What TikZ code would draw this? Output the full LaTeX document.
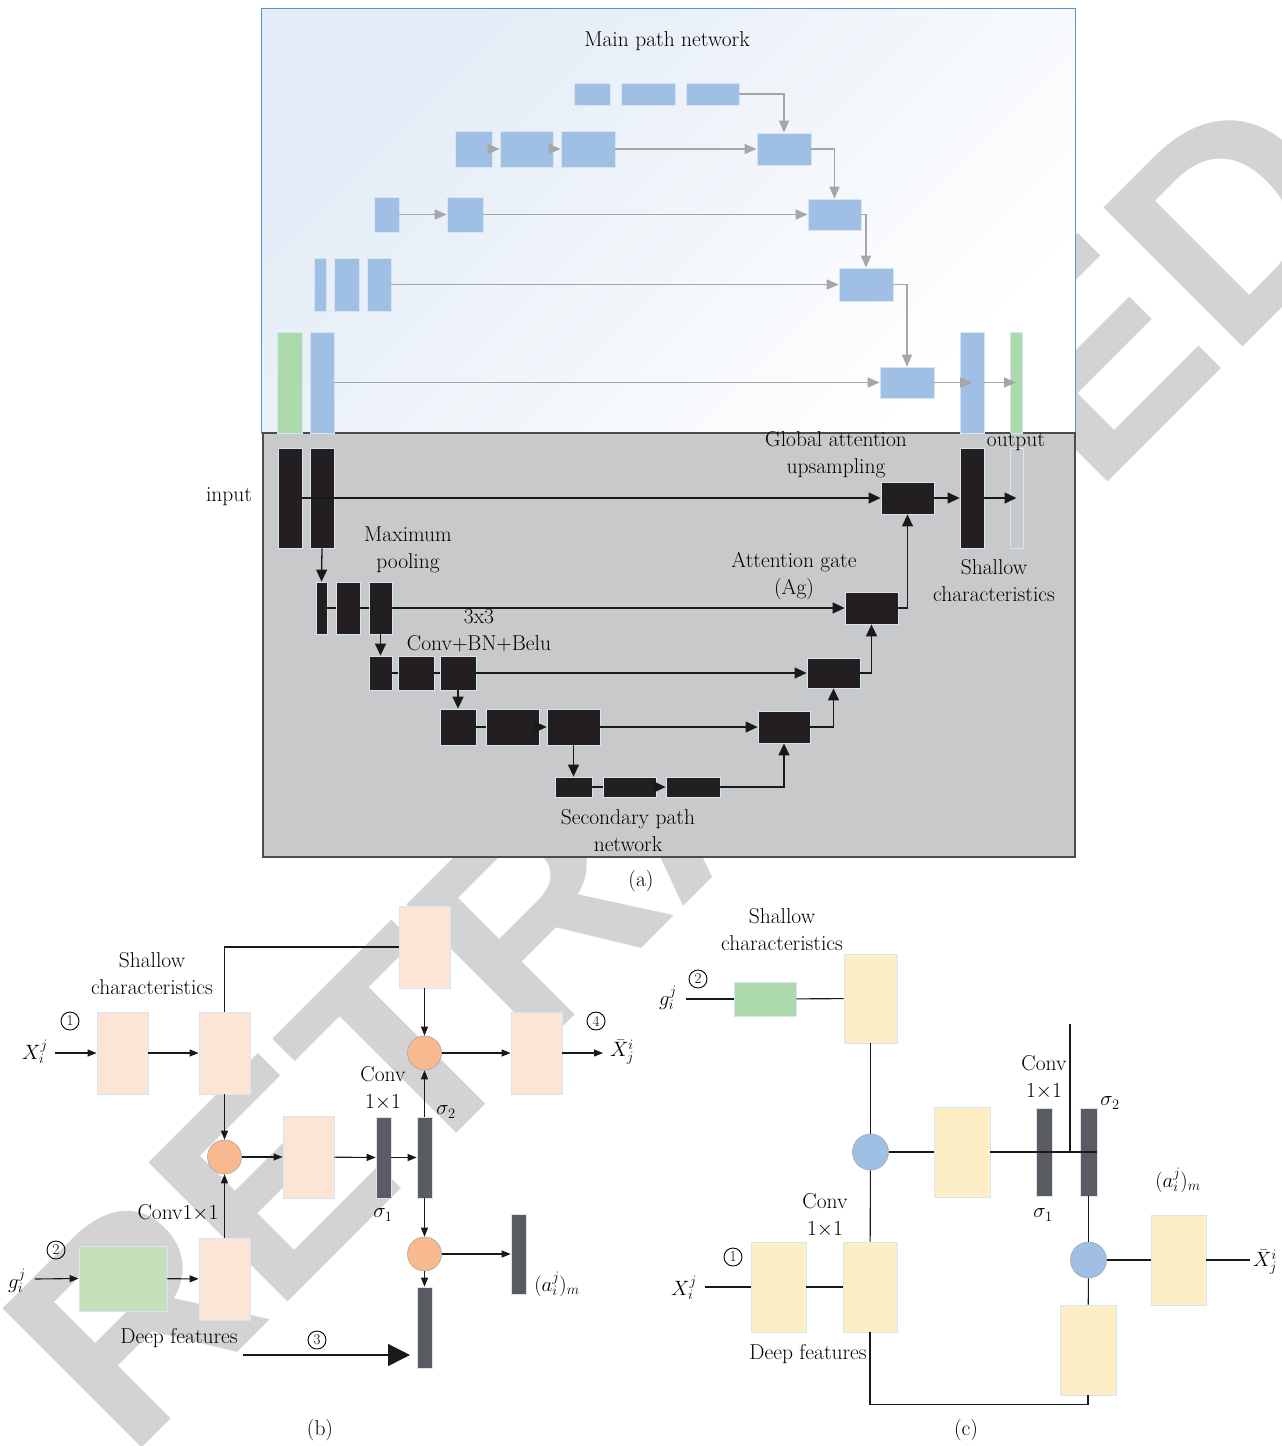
\documentclass[tikz,border=0pt]{standalone}
\usepackage{fontspec}
\newfontfamily\wmfont{Liberation Sans}
\usetikzlibrary{arrows.meta,fit,calc}
\definecolor{cblue}{RGB}{160,191,228}
\definecolor{cblueb}{RGB}{214,228,244}
\definecolor{cgreen}{RGB}{172,218,173}
\definecolor{cblack}{RGB}{35,31,32}
\definecolor{cgraybg}{RGB}{200,201,203}
\definecolor{cpink}{RGB}{253,229,214}
\definecolor{corange}{RGB}{249,185,142}
\definecolor{cbar}{RGB}{91,92,97}
\definecolor{cgreenb}{RGB}{198,224,187}
\definecolor{cyellow}{RGB}{253,238,198}
\definecolor{carrgray}{RGB}{166,166,166}
\definecolor{ctopbg}{RGB}{226,235,246}
\definecolor{ctopline}{RGB}{90,150,196}
\definecolor{cwm}{RGB}{211,211,211}
\begin{document}
\begin{tikzpicture}[x=1pt,y=-1pt,
  lbl/.style={font=\fontsize{21.5}{27}\selectfont, align=center, inner sep=0pt, text=black},
  wm/.style={font=\wmfont\bfseries\fontsize{286}{286}\selectfont, text=cwm, inner sep=0pt},
  bluebox/.style={fill=cblue, draw=cblueb, line width=0.8pt, inner sep=0pt},
  greenbox/.style={fill=cgreen, draw=cblueb, line width=0.8pt, inner sep=0pt},
  blackbox/.style={fill=cblack, draw=cblueb, line width=0.8pt, inner sep=0pt},
  pinkbox/.style={fill=cpink, draw=cblueb, line width=0.8pt, inner sep=0pt},
  yelbox/.style={fill=cyellow, draw=cblueb, line width=0.8pt, inner sep=0pt},
  barbox/.style={fill=cbar, draw=cblueb, line width=0.6pt, inner sep=0pt},
  orc/.style={circle, fill=corange, draw=black!35, line width=0.6pt, minimum size=34pt, inner sep=0pt},
  blc/.style={circle, fill=cblue, draw=black!35, line width=0.6pt, minimum size=36pt, inner sep=0pt},
  cnum/.style={circle, draw=black, line width=0.9pt, minimum size=18pt, inner sep=0pt, font=\fontsize{15}{15}\selectfont},
  garr/.style={draw=carrgray, line width=1.5pt, -{Triangle[length=12pt,width=10pt]}},
  karr/.style={draw=black!90, line width=1.3pt, -{Triangle[length=12pt,width=11pt]}},
  kline/.style={draw=black!90, line width=1.3pt},
  barr/.style={draw=black!90, line width=1.1pt, -{Triangle[length=9pt,width=7pt]}},
  cline/.style={draw=black!90, line width=1.1pt},
  bigarr/.style={draw=black!90, line width=1.3pt, -{Triangle[length=22pt,width=22pt]}}
]
\useasboundingbox (0,0) rectangle (1282,1446);
\fill[white] (0,0) rectangle (1282,1446);
% watermark
\node[wm, anchor=base west, rotate=45] (wmk) at (128,1462) {RETRACTED};

% ---------------- panel (a) ----------------
\shadedraw[top color=ctopbg, bottom color=white, shading angle=45, draw=ctopline, line width=0.9pt] (261,8) rectangle (1075,433);
\draw[fill=cgraybg, draw=black!70, line width=1.5pt] (263,433) rectangle (1075,857);

\node[lbl] (tmain) at (667,41) {Main path network};

% top (main path) boxes
\node[bluebox, fit={(574,83)(610,105)}] (t1a) {};
\node[bluebox, fit={(621,83)(675,105)}] (t1b) {};
\node[bluebox, fit={(686,83)(739,105)}] (t1c) {};
\node[bluebox, fit={(757,133)(811,165)}] (u1) {};
\node[bluebox, fit={(455,131)(492,167)}] (b2a) {};
\node[bluebox, fit={(500,131)(553,167)}] (b2b) {};
\node[bluebox, fit={(561,131)(615,167)}] (b2c) {};
\node[bluebox, fit={(808,199)(861,230)}] (u2) {};
\node[bluebox, fit={(374,197)(399,232)}] (b3a) {};
\node[bluebox, fit={(447,197)(483,232)}] (b3b) {};
\node[bluebox, fit={(839,268)(893,301)}] (u3) {};
\node[bluebox, fit={(314,258)(326,311)}] (b4a) {};
\node[bluebox, fit={(334,258)(359,311)}] (b4b) {};
\node[bluebox, fit={(367,258)(391,311)}] (b4c) {};
\node[bluebox, fit={(880,367)(934,398)}] (u4) {};
\node[greenbox, fit={(277,332)(302,433)}] (g5) {};
\node[bluebox, fit={(310,332)(334,433)}] (b5) {};
\node[bluebox, fit={(960,332)(984,433)}] (b5o) {};
\node[greenbox, fit={(1010,332)(1022,433)}] (g5o) {};

\draw[garr] (t1c.east) -| (u1.north);
\draw[garr] (b2a) -- (b2b);
\draw[garr] (b2b) -- (b2c);
\draw[garr] (b2c) -- (u1);
\draw[garr] (u1.east) -| (u2.north);
\draw[garr] (b3a) -- (b3b);
\draw[garr] (b3b) -- (u2);
\draw[garr] (u2.east) -| (u3.north);
\draw[garr] (b4c) -- (u3);
\draw[garr] (u3.east) -| (u4.north);
\draw[garr] (b5) -- (u4);
\draw[garr] (u4.east) -- (b5o.center);
\draw[garr] (b5o.east) -- (g5o.center);

% bottom (secondary path) boxes
\node[blackbox, fit={(278,448)(302,548)}] (i1) {};
\node[blackbox, fit={(310,448)(334,548)}] (i2) {};
\node[blackbox, fit={(881,482)(934,514)}] (ga) {};
\node[blackbox, fit={(960,448)(984,548)}] (s) {};
\node[draw=cblueb, line width=1pt, inner sep=0pt, fit={(1010,448)(1023,548)}] (o) {};
\node[blackbox, fit={(316,582)(327,634)}] (r2a) {};
\node[blackbox, fit={(336,582)(360,634)}] (r2b) {};
\node[blackbox, fit={(369,582)(392,634)}] (r2c) {};
\node[blackbox, fit={(845,592)(898,624)}] (ag) {};
\node[blackbox, fit={(369,656)(392,690)}] (r3a) {};
\node[blackbox, fit={(398,656)(434,690)}] (r3b) {};
\node[blackbox, fit={(440,656)(476,690)}] (r3c) {};
\node[blackbox, fit={(807,658)(860,688)}] (ag3) {};
\node[blackbox, fit={(440,709)(476,745)}] (r4a) {};
\node[blackbox, fit={(486,709)(539,745)}] (r4b) {};
\node[blackbox, fit={(547,709)(600,745)}] (r4c) {};
\node[blackbox, fit={(758,711)(810,743)}] (ag4) {};
\node[blackbox, fit={(555,777)(592,797)}] (r5a) {};
\node[blackbox, fit={(603,777)(656,797)}] (r5b) {};
\node[blackbox, fit={(666,777)(720,797)}] (r5c) {};

\draw[karr] (i1) -- (ga);
\draw[karr] (ga) -- (s);
\draw[karr] (s.east) -- (o.center);
\draw[karr] (i2.south) -- (r2a.north);
\draw[kline] (r2a) -- (r2b);
\draw[kline] (r2b) -- (r2c);
\draw[karr] (r2c) -- (ag);
\draw[karr] (ag.east) -| (ga.south);
\draw[karr] (r2c.south) -- (r3a.north);
\draw[kline] (r3a) -- (r3b);
\draw[kline] (r3b) -- (r3c);
\draw[karr] (r3c) -- (ag3);
\draw[karr] (ag3.east) -| (ag.south);
\draw[karr] (r3c.south) -- (r4a.north);
\draw[kline] (r4a) -- (r4b);
\draw[karr] (r4b) -- (r4c);
\draw[karr] (r4c) -- (ag4);
\draw[karr] (ag4.east) -| (ag3.south);
\draw[karr] (r4c.south) -- (r5a.north);
\draw[kline] (r5a) -- (r5b);
\draw[karr] (r5b) -- (r5c);
\draw[karr] (r5c.east) -| (ag4.south);

\node[lbl] (tga) at (836,455) {Global attention\\upsampling};
\node[lbl] (tout) at (1016,442) {output};
\node[lbl] (tin) at (229,497) {input};
\node[lbl] (tmax) at (408,550) {Maximum\\pooling};
\node[lbl] (tagt) at (794,576) {Attention gate\\(Ag)};
\node[lbl] (tsh) at (994,581) {Shallow\\characteristics};
\node[lbl] (tconv) at (479,631) {3x3\\Conv+BN+Belu};
\node[lbl] (tsec) at (628,831) {Secondary path\\network};
\node[lbl] (ta) at (641,881) {(a)};

% ---------------- panel (b) ----------------
\node[pinkbox, fit={(399,906)(450,988)}] (pt) {};
\node[pinkbox, fit={(97,1012)(148,1094)}] (p1) {};
\node[pinkbox, fit={(199,1012)(250,1094)}] (p2) {};
\node[pinkbox, fit={(283,1116)(334,1198)}] (p3) {};
\node[pinkbox, fit={(511,1012)(562,1094)}] (p4) {};
\node[pinkbox, fit={(199,1238)(250,1320)}] (p5) {};
\node[fill=cgreenb, draw=cblueb, line width=0.8pt, inner sep=0pt, fit={(79,1246)(167,1311)}] (gb) {};
\node[barbox, fit={(376,1117)(391,1198)}] (bar1) {};
\node[barbox, fit={(417,1117)(432,1198)}] (bar2) {};
\node[barbox, fit={(511,1214)(526,1294)}] (bar3) {};
\node[barbox, fit={(417,1287)(432,1368)}] (bar4) {};
\node[orc] (c1) at (224.5,1157) {};
\node[orc] (c2) at (424.5,1053) {};
\node[orc] (c3) at (424.5,1254) {};

\coordinate (xsb) at (55,1053);
\coordinate (xeb) at (603,1053);
\coordinate (gsb) at (35,1279);
\coordinate (dsb) at (243,1355);
\coordinate (deb) at (410,1355);

\draw[barr] (xsb) -- (p1.west);
\draw[barr] (p1) -- (p2);
\draw[cline] (pt.west) -| (p2.north);
\draw[barr] (p2) -- (c1);
\draw[barr] (p5) -- (c1);
\draw[barr] (c1) -- (p3);
\draw[barr] (p3) -- (bar1);
\draw[barr] (bar1) -- (bar2);
\draw[barr] (bar2) -- (c2);
\draw[barr] (pt) -- (c2);
\draw[barr] (c2) -- (p4);
\draw[barr] (p4.east) -- (xeb);
\draw[barr] (bar2) -- (c3);
\draw[barr] (c3) -- (bar3);
\draw[barr] (c3) -- (bar4);
\draw[barr] (gsb) -- (gb.west);
\draw[barr] (gb) -- (p5);
\draw[bigarr] (dsb) -- (deb);

\node[lbl] (bsh) at (152,974) {Shallow\\characteristics};
\node[lbl] (bxl) at (35,1052) {$X_i^j$};
\node[lbl] (bxr) at (622,1052) {$\bar{X}_j^i$};
\node[lbl] (bgl) at (17,1281) {$g_i^j$};
\node[cnum] (bn1) at (70,1021) {1};
\node[cnum] (bn2) at (56,1250) {2};
\node[cnum] (bn3) at (317,1340) {3};
\node[cnum] (bn4) at (596,1021) {4};
\node[lbl] (bconv) at (383,1088) {Conv\\1$\times$1};
\node[lbl] (bs2) at (446,1112) {$\sigma_2$};
\node[lbl] (bs1) at (383,1215) {$\sigma_1$};
\node[lbl] (bconv2) at (178,1213) {Conv1$\times$1};
\node[lbl] (bdeep) at (179,1338) {Deep features};
\node[lbl] (bam) at (557,1284) {$(a_i^j)_m$};
\node[lbl] (tb) at (320,1430) {(b)};

% ---------------- panel (c) ----------------
\node[fill=cgreen, draw=cblueb, line width=0.8pt, inner sep=0pt, fit={(734,982)(796,1016)}] (gc) {};
\node[yelbox, fit={(844,954)(897,1043)}] (y1) {};
\node[yelbox, fit={(934,1107)(990,1197)}] (y2) {};
\node[yelbox, fit={(1151,1215)(1206,1305)}] (y3) {};
\node[yelbox, fit={(1060,1305)(1116,1395)}] (y4) {};
\node[yelbox, fit={(751,1242)(806,1332)}] (y5) {};
\node[yelbox, fit={(843,1242)(897,1332)}] (y6) {};
\node[barbox, fit={(1036,1108)(1052,1196)}] (d1) {};
\node[barbox, fit={(1080,1108)(1097,1196)}] (d2) {};
\node[blc] (cb1) at (870.5,1152) {};
\node[blc] (cb2) at (1088.5,1260) {};

\coordinate (gsc) at (686,999);
\coordinate (vtop) at (1070,1024);
\coordinate (vbot) at (1070,1152);
\coordinate (xec) at (1250,1260);
\coordinate (xsc) at (705,1287);

\draw[cline] (gsc) -- (gc.west);
\draw[cline] (gc) -- (y1);
\draw[cline] (y1) -- (cb1);
\draw[cline] (cb1) -- (y2);
\draw[cline] (y2.east) -- (d2.east);
\draw[cline] (vtop) -- (vbot);
\draw[cline] (d2) -- (cb2);
\draw[cline] (cb2) -- (y3);
\draw[cline] (y3.east) -- (xec);
\draw[cline] (cb2) -- (y4);
\draw[cline] (y4.south) -- ++(0,9) -| (y6.south);
\draw[cline] (xsc) -- (y5.west);
\draw[cline] (y5) -- (y6);
\draw[cline] (y6) -- (cb1);

\node[lbl] (csh) at (782,930) {Shallow\\characteristics};
\node[lbl] (cgl) at (668,998) {$g_i^j$};
\node[cnum] (cn2) at (698,979) {2};
\node[cnum] (cn1) at (733,1257) {1};
\node[lbl] (cxl) at (684,1288) {$X_i^j$};
\node[lbl] (cxr) at (1265,1262) {$\bar{X}_j^i$};
\node[lbl] (cconv) at (1044,1077) {Conv\\1$\times$1};
\node[lbl] (cs2) at (1110,1103) {$\sigma_2$};
\node[lbl] (cs1) at (1043,1215) {$\sigma_1$};
\node[lbl] (cam) at (1178,1180) {$(a_i^j)_m$};
\node[lbl] (cconv2) at (825,1215) {Conv\\1$\times$1};
\node[lbl] (cdeep) at (808,1354) {Deep features};
\node[lbl] (tc) at (966,1430) {(c)};
\end{tikzpicture}
\end{document}
